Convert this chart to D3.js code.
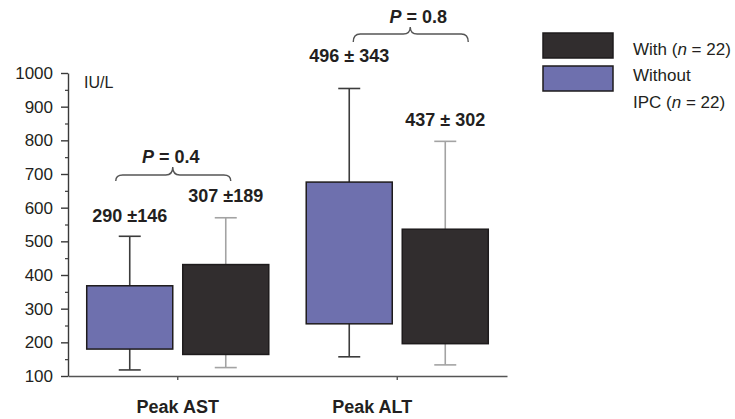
<!DOCTYPE html>
<html>
<head>
<meta charset="utf-8">
<script src="https://cdn.jsdelivr.net/npm/d3@7"></script>
<style>
  html, body { margin: 0; padding: 0; background: #fff; }
  svg { display: block; font-family: "Liberation Sans", Arial, sans-serif; }
</style>
</head>
<body>
<svg id="chart" width="735" height="419"></svg>
<script>
// ---- data ----
const categories = ["Peak AST", "Peak ALT"];
const series = ["Without", "With"];
const withoutBoxLow = [180, 255];
const withoutBoxHigh = [368, 676];
const withoutWhiskerLow = [118, 157];
const withoutWhiskerHigh = [515, 954];
const withBoxLow = [164, 196];
const withBoxHigh = [431, 536];
const withWhiskerLow = [125, 133];
const withWhiskerHigh = [570, 797];
const withoutLabels = ["290 ±146", "496 ± 343"];
const withLabels = ["307 ±189", "437 ± 302"];
const pValues = ["0.4", "0.8"];
const yTicks = [100, 200, 300, 400, 500, 600, 700, 800, 900, 1000];
const yMinorTicks = [150, 250, 350, 450, 550, 650, 750, 850, 950];
const unitLabel = "IU/L";

// ---- styles / layout ----
const colors = { Without: "#6e70ae", With: "#312d2e" };
const whiskerColors = { Without: "#3c3c3c", With: "#a3a3a3" };
const svg = d3.select("#chart");

const y = d3.scaleLinear().domain([100, 1000]).range([376, 73]);
const x = d3.scaleBand().domain(categories).range([68, 507]).padding(0);
const xs = d3.scaleBand().domain(series).range([0, x.bandwidth()])
  .paddingInner(0.104).paddingOuter(0.195);

const rows = [];
categories.forEach((c, i) => {
  rows.push({ cat: c, s: "Without", i, lo: withoutBoxLow[i], hi: withoutBoxHigh[i],
    wlo: withoutWhiskerLow[i], whi: withoutWhiskerHigh[i], label: withoutLabels[i] });
  rows.push({ cat: c, s: "With", i, lo: withBoxLow[i], hi: withBoxHigh[i],
    wlo: withWhiskerLow[i], whi: withWhiskerHigh[i], label: withLabels[i] });
});

// y axis
const yAxis = svg.append("g").attr("transform", "translate(68,0)")
  .call(d3.axisLeft(y).tickValues(yTicks).tickFormat(d3.format("d"))
    .tickSize(7).tickPadding(8).tickSizeOuter(0));
yAxis.selectAll("text").attr("font-size", 17).attr("fill", "#231f20")
  .attr("font-family", "Liberation Sans, Arial, sans-serif");
yAxis.selectAll("line, path").attr("stroke", "#3a3a3a").attr("stroke-width", 1.4);
const yMinor = svg.append("g").attr("transform", "translate(68,0)")
  .call(d3.axisLeft(y).tickValues(yMinorTicks).tickSize(3).tickFormat("").tickSizeOuter(0));
yMinor.select("path").remove();
yMinor.selectAll("line").attr("stroke", "#3a3a3a").attr("stroke-width", 1.2);

svg.append("text").attr("x", 84).attr("y", 88).attr("font-size", 16)
  .attr("fill", "#231f20").text(unitLabel);

// x axis
const labelDx = [0, -25];
const xAxis = svg.append("g").attr("transform", "translate(0,376)")
  .call(d3.axisBottom(x).tickSize(4).tickPadding(20).tickSizeOuter(0));
xAxis.selectAll("path, line").attr("stroke", "#555").attr("stroke-width", 1.4);
xAxis.selectAll("text").attr("font-size", 18).attr("font-weight", "bold")
  .attr("fill", "#231f20").attr("font-family", "Liberation Sans, Arial, sans-serif")
  .attr("dx", (d, i) => labelDx[i]);

// whiskers
const capW = 22;
const cx = d => x(d.cat) + xs(d.s) + xs.bandwidth() / 2;
const wg = svg.append("g");
rows.forEach(d => {
  const c = cx(d);
  const col = whiskerColors[d.s];
  [[d.hi, d.whi], [d.lo, d.wlo]].forEach(([a, b]) => {
    wg.append("line").attr("x1", c).attr("x2", c).attr("y1", y(a)).attr("y2", y(b))
      .attr("stroke", col).attr("stroke-width", 1.6);
    wg.append("line").attr("x1", c - capW / 2).attr("x2", c + capW / 2)
      .attr("y1", y(b)).attr("y2", y(b)).attr("stroke", col).attr("stroke-width", 1.6);
  });
});

// boxes
svg.append("g").selectAll("rect").data(rows).join("rect")
  .attr("x", d => x(d.cat) + xs(d.s))
  .attr("width", xs.bandwidth())
  .attr("y", d => y(d.hi))
  .attr("height", d => y(d.lo) - y(d.hi))
  .attr("fill", d => colors[d.s])
  .attr("stroke", "#1e1b1c").attr("stroke-width", 1.5);

// value labels
const labelDy = { "Without0": -14, "With0": -16, "Without1": -26, "With1": -15 };
svg.append("g").selectAll("text").data(rows).join("text")
  .attr("x", d => cx(d))
  .attr("y", d => y(d.whi) + labelDy[d.s + d.i])
  .attr("text-anchor", "middle")
  .attr("font-size", 18).attr("font-weight", "bold").attr("fill", "#231f20")
  .text(d => d.label);

// braces with P values
const braceLayout = [
  { x0: -62, x1: 53, cusp: -5, yEnd: 181, yH: 175, yTop: 167, tx: -7, ty: 163 },
  { x0: -44, x1: 71, cusp: 13, yEnd: 42, yH: 34, yTop: 27, tx: 21, ty: 23 }
];
categories.forEach((c, i) => {
  const L = braceLayout[i];
  const mid = x(c) + x.bandwidth() / 2;
  const x0 = mid + L.x0, x1 = mid + L.x1, xc = mid + L.cusp;
  const r = 7;
  const p = `M${x0},${L.yEnd} Q${x0},${L.yH} ${x0 + r},${L.yH} L${xc - r},${L.yH} ` +
    `Q${xc},${L.yH} ${xc},${L.yTop} Q${xc},${L.yH} ${xc + r},${L.yH} ` +
    `L${x1 - r},${L.yH} Q${x1},${L.yH} ${x1},${L.yEnd}`;
  svg.append("path").attr("d", p).attr("fill", "none")
    .attr("stroke", "#555").attr("stroke-width", 1.4);
  const t = svg.append("text").attr("x", mid + L.tx).attr("y", L.ty)
    .attr("text-anchor", "middle").attr("font-size", 18).attr("font-weight", "bold")
    .attr("fill", "#231f20");
  t.append("tspan").attr("font-style", "italic").text("P");
  t.append("tspan").text(" = " + pValues[i]);
});

// legend
const legendItems = [
  { s: "With", y: 33 },
  { s: "Without", y: 66 }
];
legendItems.forEach(l => {
  svg.append("rect").attr("x", 543).attr("y", l.y).attr("width", 70).attr("height", 25)
    .attr("fill", colors[l.s]).attr("stroke", "#1e1b1c").attr("stroke-width", 1.5);
});
const lt1 = svg.append("text").attr("x", 633).attr("y", 54.5).attr("font-size", 17).attr("fill", "#231f20");
lt1.append("tspan").text("With (");
lt1.append("tspan").attr("font-style", "italic").text("n");
lt1.append("tspan").text(" = 22)");
svg.append("text").attr("x", 633).attr("y", 81).attr("font-size", 17).attr("fill", "#231f20").text("Without");
const lt3 = svg.append("text").attr("x", 633).attr("y", 107.5).attr("font-size", 17).attr("fill", "#231f20");
lt3.append("tspan").text("IPC (");
lt3.append("tspan").attr("font-style", "italic").text("n");
lt3.append("tspan").text(" = 22)");
</script>
</body>
</html>
